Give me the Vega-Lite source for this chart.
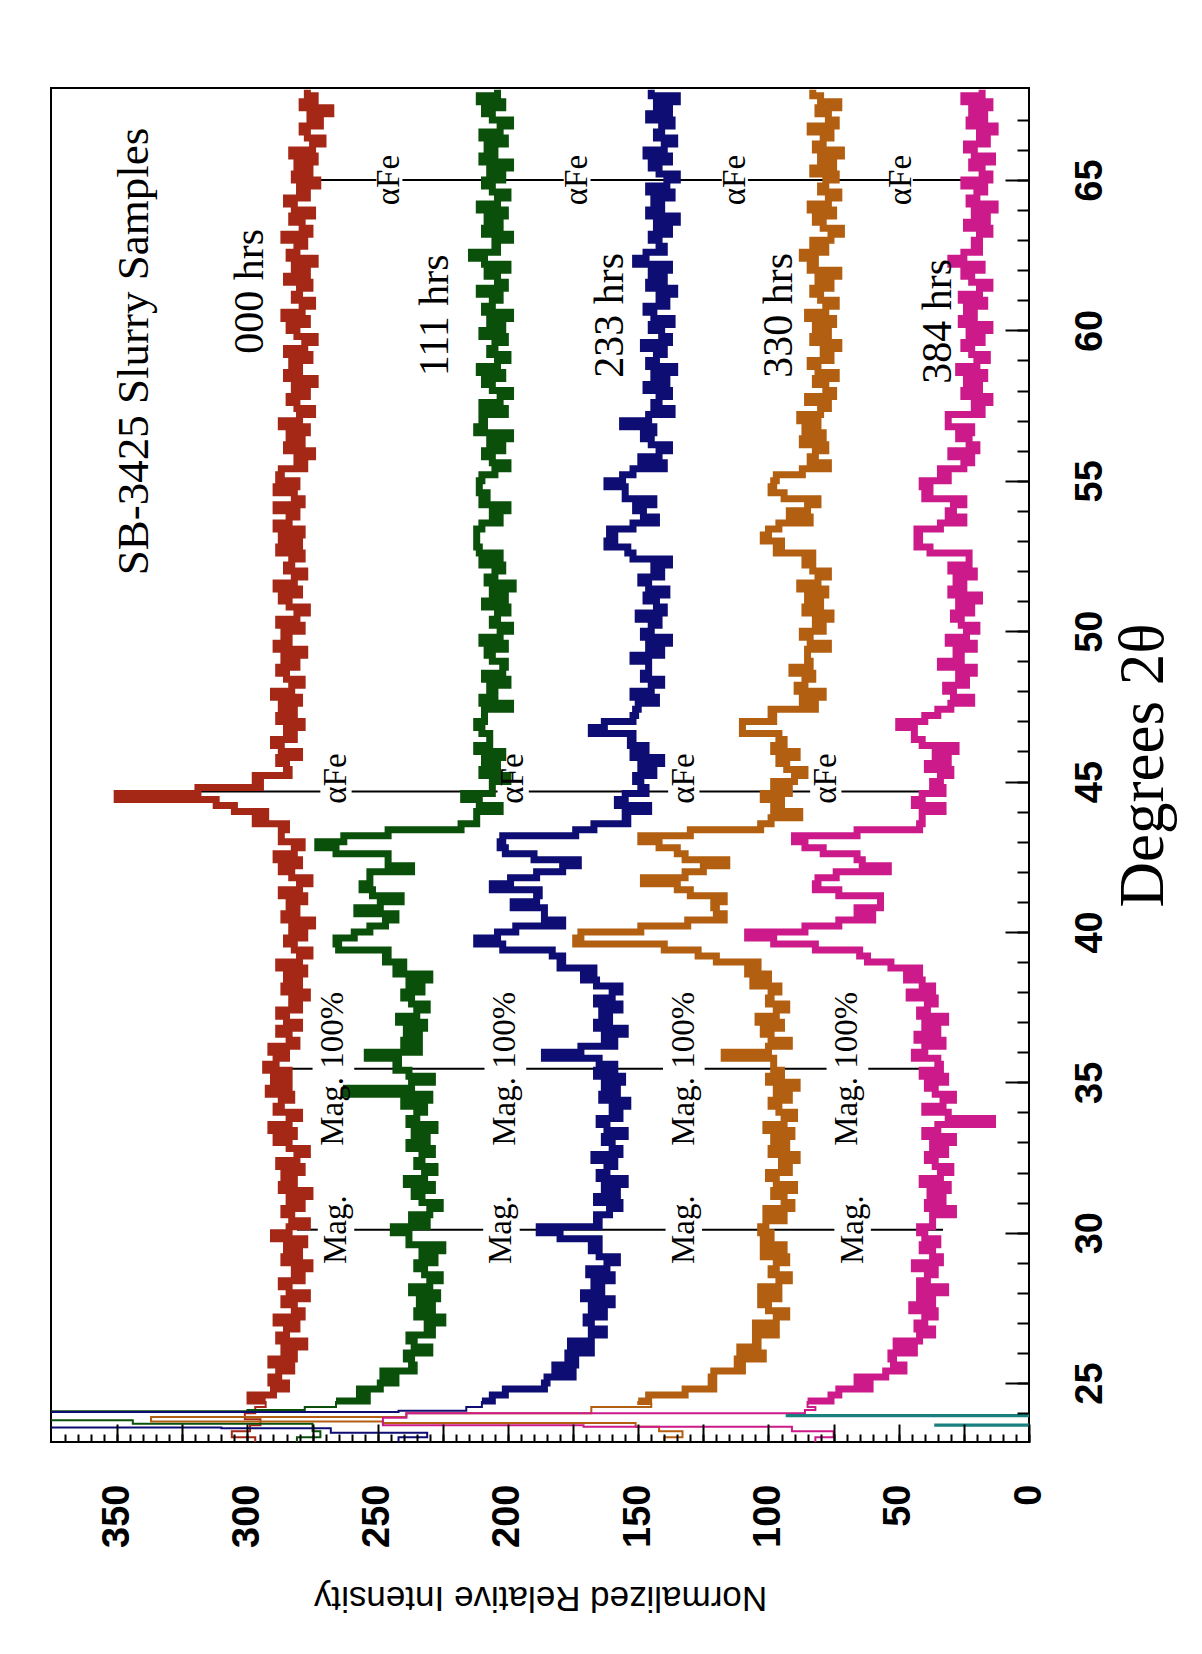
{
"$schema": "https://vega.github.io/schema/vega-lite/v6.json",
"width": 978, "height": 1354,
"padding": {"left": 51, "top": 88, "right": 20, "bottom": 30},
"background": "white",
"config": {"view": {"stroke": "black", "strokeWidth": 2}, "axis": {"labelColor": "black", "tickColor": "black", "titleColor": "black"}},
"datasets": {
"scans": [
{"t":23.0,"a":302,"b":277,"c":236,"d":136,"e":78,"f":-30},
{"t":23.2,"a":297,"b":281,"c":242,"d":140,"e":82},
{"t":23.35,"c":231},
{"t":23.4,"a":306,"b":272,"d":133,"e":75},
{"t":23.5,"c":268},
{"t":23.52,"c":310},
{"t":23.55,"d":142,"e":91},
{"t":23.56,"c":520},
{"t":23.58,"f":-30},
{"t":23.6,"a":299,"e":171},
{"t":23.62,"f":36},
{"t":23.65,"b":275},
{"t":23.66,"f":-30},
{"t":23.67,"d":151},
{"t":23.72,"d":248},
{"t":23.76,"b":344},
{"t":23.8,"a":295,"b":520},
{"t":23.85,"e":248},
{"t":23.87,"d":337},
{"t":23.9,"f":-30},
{"t":23.94,"f":93},
{"t":23.98,"f":-30},
{"t":24.0,"a":301,"d":239,"e":239},
{"t":24.04,"c":520},
{"t":24.06,"b":520},
{"t":24.08,"c":242},
{"t":24.1,"b":300,"e":86},
{"t":24.2,"a":297,"b":278,"c":216,"d":168,"e":82},
{"t":24.3,"d":145},
{"t":24.4,"a":293,"b":266,"c":210,"d":150,"e":85,"f":-30},
{"t":24.6,"a":299,"b":254,"c":206,"d":146,"e":76},
{"t":24.8,"a":290,"b":257,"c":201,"d":132,"e":73},
{"t":25.0,"a":285,"b":249,"c":186,"d":121,"e":61},
{"t":25.2,"a":291,"b":243,"c":185,"d":122,"e":66},
{"t":25.4,"a":288,"b":248,"c":175,"d":121,"e":55},
{"t":25.6,"a":283,"b":236,"c":182,"d":110,"e":48},
{"t":25.8,"a":291,"b":237,"c":174,"d":112,"e":52},
{"t":26.0,"a":282,"b":239,"c":177,"d":102,"e":53},
{"t":26.2,"a":286,"b":230,"c":168,"d":111,"e":44},
{"t":26.4,"a":278,"b":236,"c":176,"d":104,"e":51},
{"t":26.6,"a":288,"b":238,"c":168,"d":105,"e":42},
{"t":26.8,"a":285,"b":229,"c":163,"d":97,"e":37},
{"t":27.0,"a":281,"b":231,"c":168,"d":105,"e":43},
{"t":27.2,"a":289,"b":225,"c":170,"d":97,"e":40},
{"t":27.4,"a":279,"b":235,"c":163,"d":93,"e":36},
{"t":27.6,"a":282,"b":229,"c":168,"d":100,"e":45},
{"t":27.8,"a":286,"b":234,"c":160,"d":103,"e":37},
{"t":28.0,"a":277,"b":227,"c":171,"d":96,"e":42},
{"t":28.2,"a":284,"b":237,"c":164,"d":103,"e":32},
{"t":28.4,"a":287,"b":230,"c":167,"d":96,"e":42},
{"t":28.6,"a":279,"b":226,"c":160,"d":92,"e":39},
{"t":28.8,"a":282,"b":232,"c":169,"d":99,"e":36},
{"t":29.0,"a":276,"b":235,"c":162,"d":97,"e":44},
{"t":29.2,"a":286,"b":228,"c":158,"d":93,"e":34},
{"t":29.4,"a":280,"b":233,"c":165,"d":102,"e":37},
{"t":29.6,"a":285,"b":225,"c":168,"d":94,"e":41},
{"t":29.8,"a":278,"b":238,"c":165,"d":102,"e":35},
{"t":30.0,"a":290,"b":238,"c":180,"d":99,"e":40},
{"t":30.2,"a":284,"b":244,"c":188,"d":103,"e":42},
{"t":30.4,"a":277,"b":231,"c":165,"d":101,"e":37},
{"t":30.6,"a":283,"b":237,"c":166,"d":94,"e":37},
{"t":30.8,"a":286,"b":230,"c":161,"d":101,"e":29},
{"t":31.0,"a":279,"b":226,"c":157,"d":91,"e":39},
{"t":31.2,"a":284,"b":233,"c":166,"d":94,"e":33},
{"t":31.4,"a":276,"b":236,"c":158,"d":98,"e":38},
{"t":31.6,"a":287,"b":229,"c":163,"d":90,"e":31},
{"t":31.8,"a":282,"b":239,"c":155,"d":97,"e":41},
{"t":32.0,"a":286,"b":232,"c":165,"d":100,"e":34},
{"t":32.2,"a":279,"b":228,"c":162,"d":92,"e":30},
{"t":32.4,"a":288,"b":235,"c":159,"d":95,"e":36},
{"t":32.6,"a":281,"b":233,"c":167,"d":89,"e":39},
{"t":32.8,"a":277,"b":229,"c":157,"d":99,"e":32},
{"t":33.0,"a":284,"b":238,"c":160,"d":93,"e":37},
{"t":33.2,"a":289,"b":231,"c":163,"d":98,"e":29},
{"t":33.4,"a":282,"b":236,"c":155,"d":91,"e":40},
{"t":33.6,"a":291,"b":228,"c":162,"d":101,"e":35},
{"t":33.8,"a":284,"b":238,"c":165,"d":94,"e":14},
{"t":34.0,"a":280,"b":235,"c":157,"d":90,"e":31},
{"t":34.2,"a":289,"b":232,"c":160,"d":96,"e":40},
{"t":34.4,"a":287,"b":240,"c":154,"d":99,"e":33},
{"t":34.6,"a":283,"b":230,"c":164,"d":92,"e":29},
{"t":34.8,"a":292,"b":262,"c":158,"d":97,"e":36},
{"t":35.0,"a":284,"b":237,"c":163,"d":89,"e":39},
{"t":35.2,"a":290,"b":229,"c":156,"d":100,"e":32},
{"t":35.4,"a":284,"b":238,"c":166,"d":95,"e":41},
{"t":35.6,"a":293,"b":243,"c":159,"d":98,"e":34},
{"t":35.8,"a":289,"b":242,"c":165,"d":98,"e":35},
{"t":36.0,"a":285,"b":254,"c":186,"d":117,"e":44},
{"t":36.2,"a":291,"b":234,"c":172,"d":100,"e":40},
{"t":36.4,"a":281,"b":240,"c":159,"d":92,"e":33},
{"t":36.6,"a":284,"b":234,"c":163,"d":99,"e":43},
{"t":36.8,"a":288,"b":239,"c":155,"d":102,"e":35},
{"t":37.0,"a":280,"b":232,"c":166,"d":95,"e":40},
{"t":37.2,"a":285,"b":242,"c":161,"d":104,"e":32},
{"t":37.4,"a":288,"b":235,"c":164,"d":97,"e":42},
{"t":37.6,"a":280,"b":231,"c":157,"d":93,"e":39},
{"t":37.8,"a":283,"b":237,"c":166,"d":100,"e":36},
{"t":38.0,"a":277,"b":240,"c":160,"d":99,"e":46},
{"t":38.2,"a":286,"b":233,"c":157,"d":96,"e":37},
{"t":38.4,"a":280,"b":238,"c":166,"d":106,"e":41},
{"t":38.6,"a":285,"b":230,"c":171,"d":100,"e":47},
{"t":38.8,"a":278,"b":243,"c":167,"d":108,"e":42},
{"t":39.0,"a":288,"b":240,"c":180,"d":104,"e":53},
{"t":39.2,"a":280,"b":247,"c":179,"d":120,"e":62},
{"t":39.4,"a":276,"b":246,"c":183,"d":127,"e":65},
{"t":39.6,"a":282,"b":265,"c":202,"d":140,"e":82},
{"t":39.8,"a":285,"b":266,"c":212,"d":174,"e":98},
{"t":40.0,"a":278,"b":259,"c":204,"d":172,"e":108},
{"t":40.2,"a":283,"b":253,"c":197,"d":149,"e":86},
{"t":40.4,"a":275,"b":247,"c":179,"d":131,"e":73},
{"t":40.6,"a":286,"b":243,"c":186,"d":117,"e":60},
{"t":40.8,"a":281,"b":258,"c":186,"d":120,"e":66},
{"t":41.0,"a":284,"b":249,"c":198,"d":121,"e":57},
{"t":41.2,"a":278,"b":241,"c":189,"d":117,"e":57},
{"t":41.4,"a":287,"b":252,"c":188,"d":130,"e":73},
{"t":41.6,"a":280,"b":256,"c":206,"d":135,"e":82},
{"t":41.8,"a":276,"b":253,"c":199,"d":148,"e":81},
{"t":42.0,"a":283,"b":253,"c":189,"d":132,"e":74},
{"t":42.2,"a":287,"b":237,"c":179,"d":125,"e":54},
{"t":42.4,"a":280,"b":246,"c":173,"d":116,"e":64},
{"t":42.6,"a":289,"b":246,"c":190,"d":132,"e":66},
{"t":42.8,"a":282,"b":266,"c":201,"d":135,"e":79},
{"t":43.0,"a":279,"b":273,"c":203,"d":142,"e":86},
{"t":43.2,"a":287,"b":263,"c":202,"d":149,"e":90},
{"t":43.4,"a":287,"b":246,"c":174,"d":130,"e":66},
{"t":43.6,"a":285,"b":218,"c":167,"d":103,"e":42},
{"t":43.8,"a":297,"b":212,"c":154,"d":99,"e":41},
{"t":44.0,"a":293,"b":212,"c":155,"d":88,"e":41},
{"t":44.2,"a":305,"b":203,"c":146,"d":98,"e":33},
{"t":44.4,"a":312,"b":211,"c":158,"d":95,"e":44},
{"t":44.6,"a":350,"b":217,"c":155,"d":102,"e":41},
{"t":44.8,"a":319,"b":206,"c":147,"d":92,"e":33},
{"t":45.0,"a":295,"b":206,"c":149,"d":98,"e":37},
{"t":45.2,"a":297,"b":200,"c":151,"d":90,"e":34},
{"t":45.4,"a":284,"b":210,"c":144,"d":86,"e":30},
{"t":45.6,"a":285,"b":204,"c":149,"d":93,"e":39},
{"t":45.8,"a":288,"b":209,"c":141,"d":96,"e":31},
{"t":46.0,"a":280,"b":202,"c":152,"d":89,"e":36},
{"t":46.2,"a":287,"b":212,"c":147,"d":98,"e":28},
{"t":46.4,"a":290,"b":207,"c":153,"d":94,"e":41},
{"t":46.6,"a":282,"b":207,"c":152,"d":96,"e":44},
{"t":46.8,"a":285,"b":210,"c":168,"d":110,"e":44},
{"t":47.0,"a":279,"b":212,"c":163,"d":110,"e":50},
{"t":47.2,"a":288,"b":209,"c":152,"d":98,"e":40},
{"t":47.4,"a":282,"b":209,"c":151,"d":99,"e":35},
{"t":47.6,"a":287,"b":199,"c":150,"d":82,"e":30},
{"t":47.8,"a":280,"b":210,"c":143,"d":87,"e":22},
{"t":48.0,"a":290,"b":205,"c":152,"d":79,"e":29},
{"t":48.2,"a":283,"b":207,"c":145,"d":89,"e":32},
{"t":48.4,"a":279,"b":200,"c":141,"d":86,"e":24},
{"t":48.6,"a":285,"b":209,"c":148,"d":83,"e":27},
{"t":48.8,"a":288,"b":202,"c":146,"d":91,"e":21},
{"t":49.0,"a":281,"b":201,"c":146,"d":84,"e":34},
{"t":49.2,"a":286,"b":206,"c":152,"d":85,"e":26},
{"t":49.4,"a":278,"b":208,"c":141,"d":85,"e":28},
{"t":49.6,"a":289,"b":201,"c":146,"d":77,"e":21},
{"t":49.8,"a":284,"b":210,"c":138,"d":84,"e":31},
{"t":50.0,"a":286,"b":203,"c":148,"d":87,"e":24},
{"t":50.2,"a":279,"b":199,"c":145,"d":79,"e":20},
{"t":50.4,"a":288,"b":206,"c":142,"d":82,"e":26},
{"t":50.6,"a":281,"b":204,"c":150,"d":76,"e":29},
{"t":50.8,"a":277,"b":200,"c":140,"d":86,"e":22},
{"t":51.0,"a":284,"b":209,"c":143,"d":80,"e":27},
{"t":51.2,"a":287,"b":201,"c":147,"d":85,"e":19},
{"t":51.4,"a":280,"b":206,"c":139,"d":78,"e":30},
{"t":51.6,"a":289,"b":198,"c":146,"d":88,"e":25},
{"t":51.8,"a":282,"b":208,"c":149,"d":81,"e":28},
{"t":52.0,"a":278,"b":205,"c":141,"d":77,"e":21},
{"t":52.2,"a":285,"b":202,"c":144,"d":83,"e":30},
{"t":52.4,"a":283,"b":210,"c":138,"d":86,"e":23},
{"t":52.6,"a":279,"b":203,"c":152,"d":83,"e":23},
{"t":52.8,"a":288,"b":211,"c":154,"d":97,"e":38},
{"t":53.0,"a":280,"b":212,"c":162,"d":95,"e":43},
{"t":53.2,"a":287,"b":212,"c":159,"d":102,"e":42},
{"t":53.4,"a":279,"b":212,"c":161,"d":100,"e":43},
{"t":53.6,"a":289,"b":210,"c":152,"d":96,"e":34},
{"t":53.8,"a":284,"b":203,"c":143,"d":84,"e":25},
{"t":54.0,"a":281,"b":206,"c":148,"d":92,"e":31},
{"t":54.2,"a":289,"b":200,"c":151,"d":85,"e":29},
{"t":54.4,"a":279,"b":210,"c":144,"d":81,"e":25},
{"t":54.6,"a":282,"b":208,"c":155,"d":94,"e":40},
{"t":54.8,"a":289,"b":211,"c":155,"d":99,"e":38},
{"t":55.0,"a":281,"b":211,"c":162,"d":98,"e":41},
{"t":55.2,"a":288,"b":210,"c":156,"d":97,"e":31},
{"t":55.4,"a":287,"b":205,"c":152,"d":87,"e":34},
{"t":55.6,"a":278,"b":200,"c":140,"d":77,"e":25},
{"t":55.8,"a":281,"b":206,"c":149,"d":84,"e":22},
{"t":56.0,"a":275,"b":209,"c":142,"d":82,"e":30},
{"t":56.2,"a":285,"b":202,"c":138,"d":78,"e":20},
{"t":56.4,"a":279,"b":207,"c":145,"d":87,"e":23},
{"t":56.6,"a":284,"b":199,"c":148,"d":79,"e":27},
{"t":56.8,"a":277,"b":212,"c":144,"d":86,"e":22},
{"t":57.0,"a":287,"b":209,"c":156,"d":81,"e":31},
{"t":57.2,"a":280,"b":210,"c":146,"d":88,"e":31},
{"t":57.4,"a":275,"b":201,"c":137,"d":80,"e":18},
{"t":57.6,"a":281,"b":210,"c":144,"d":77,"e":21},
{"t":57.8,"a":284,"b":203,"c":142,"d":85,"e":15},
{"t":58.0,"a":277,"b":199,"c":138,"d":75,"e":25},
{"t":58.2,"a":282,"b":206,"c":147,"d":78,"e":19},
{"t":58.4,"a":274,"b":209,"c":139,"d":82,"e":24},
{"t":58.6,"a":285,"b":202,"c":144,"d":74,"e":17},
{"t":58.8,"a":280,"b":211,"c":136,"d":81,"e":27},
{"t":59.0,"a":283,"b":204,"c":146,"d":84,"e":20},
{"t":59.2,"a":276,"b":200,"c":143,"d":76,"e":16},
{"t":59.4,"a":285,"b":207,"c":140,"d":79,"e":22},
{"t":59.6,"a":278,"b":205,"c":148,"d":73,"e":25},
{"t":59.8,"a":274,"b":201,"c":138,"d":83,"e":18},
{"t":60.0,"a":281,"b":210,"c":141,"d":77,"e":23},
{"t":60.2,"a":284,"b":202,"c":145,"d":82,"e":15},
{"t":60.4,"a":277,"b":207,"c":137,"d":75,"e":26},
{"t":60.6,"a":286,"b":199,"c":144,"d":85,"e":21},
{"t":60.8,"a":279,"b":209,"c":147,"d":78,"e":24},
{"t":61.0,"a":275,"b":206,"c":139,"d":74,"e":17},
{"t":61.2,"a":282,"b":203,"c":142,"d":80,"e":26},
{"t":61.4,"a":280,"b":211,"c":136,"d":83,"e":19},
{"t":61.6,"a":276,"b":201,"c":146,"d":76,"e":15},
{"t":61.8,"a":285,"b":204,"c":140,"d":81,"e":22},
{"t":62.0,"a":277,"b":208,"c":145,"d":73,"e":25},
{"t":62.2,"a":282,"b":200,"c":138,"d":84,"e":18},
{"t":62.4,"a":274,"b":209,"c":151,"d":82,"e":30},
{"t":62.6,"a":284,"b":214,"c":147,"d":87,"e":25},
{"t":62.8,"a":281,"b":204,"c":140,"d":78,"e":19},
{"t":63.0,"a":278,"b":205,"c":142,"d":83,"e":21},
{"t":63.2,"a":286,"b":199,"c":145,"d":76,"e":19},
{"t":63.4,"a":276,"b":209,"c":138,"d":72,"e":15},
{"t":63.6,"a":279,"b":203,"c":143,"d":79,"e":24},
{"t":63.8,"a":283,"b":208,"c":135,"d":82,"e":16},
{"t":64.0,"a":275,"b":201,"c":146,"d":75,"e":21},
{"t":64.2,"a":282,"b":211,"c":141,"d":84,"e":13},
{"t":64.4,"a":285,"b":204,"c":144,"d":77,"e":23},
{"t":64.6,"a":277,"b":200,"c":137,"d":73,"e":20},
{"t":64.8,"a":280,"b":206,"c":146,"d":80,"e":17},
{"t":65.0,"a":273,"b":209,"c":139,"d":78,"e":25},
{"t":65.2,"a":282,"b":202,"c":135,"d":74,"e":15},
{"t":65.4,"a":276,"b":207,"c":142,"d":83,"e":18},
{"t":65.6,"a":281,"b":199,"c":145,"d":75,"e":22},
{"t":65.8,"a":274,"b":210,"c":138,"d":80,"e":14},
{"t":66.0,"a":283,"b":205,"c":147,"d":72,"e":21},
{"t":66.2,"a":275,"b":208,"c":140,"d":82,"e":24},
{"t":66.4,"a":271,"b":201,"c":136,"d":79,"e":16},
{"t":66.6,"a":277,"b":210,"c":143,"d":76,"e":19},
{"t":66.8,"a":279,"b":203,"c":141,"d":84,"e":13},
{"t":67.0,"a":272,"b":199,"c":137,"d":74,"e":23},
{"t":67.2,"a":276,"b":206,"c":146,"d":77,"e":17},
{"t":67.4,"a":268,"b":209,"c":138,"d":81,"e":22},
{"t":67.6,"a":279,"b":202,"c":143,"d":73,"e":15},
{"t":67.8,"a":274,"b":211,"c":135,"d":80,"e":25},
{"t":68.0,"a":277,"b":204,"c":145,"d":83,"e":18}
],
"hrs": [
{"label":"000 hrs","i":294,"t":61.3},
{"label":"111 hrs","i":223,"t":60.5},
{"label":"233 hrs","i":156,"t":60.5},
{"label":"330 hrs","i":91,"t":60.5},
{"label":"384 hrs","i":30,"t":60.3}
],
"peaks": [
{"label":"αFe","i":245.5,"t":65.0},{"label":"αFe","i":173.5,"t":65.0},{"label":"αFe","i":113,"t":65.0},{"label":"αFe","i":49,"t":65.0},
{"label":"αFe","i":266,"t":45.1},{"label":"αFe","i":198,"t":45.1},{"label":"αFe","i":132.5,"t":45.1},{"label":"αFe","i":78,"t":45.1},
{"label":"Mag. 100%","i":267,"t":35.45},{"label":"Mag. 100%","i":201,"t":35.45},{"label":"Mag. 100%","i":132.5,"t":35.45},{"label":"Mag. 100%","i":69.7,"t":35.45},
{"label":"Mag.","i":266,"t":30.1},{"label":"Mag.","i":202.5,"t":30.1},{"label":"Mag.","i":132.5,"t":30.1},{"label":"Mag.","i":67.7,"t":30.1}
],
"refs": [
{"t":65.0,"i1":275,"i2":250.5},{"t":65.0,"i1":240.5,"i2":178.6},{"t":65.0,"i1":168.3,"i2":117.9},{"t":65.0,"i1":107.9,"i2":53.4},{"t":65.0,"i1":44.6,"i2":22},
{"t":44.67,"i1":330,"i2":272},{"t":44.67,"i1":260,"i2":204},{"t":44.67,"i1":192,"i2":138.5},{"t":44.67,"i1":126.5,"i2":84},{"t":44.67,"i1":72,"i2":42},
{"t":35.45,"i1":288,"i2":275},{"t":35.45,"i1":259,"i2":209},{"t":35.45,"i1":193,"i2":140.5},{"t":35.45,"i1":124.5,"i2":77.7},{"t":35.45,"i1":61.7,"i2":35},
{"t":30.1,"i1":281,"i2":273},{"t":30.1,"i1":259,"i2":209.5},{"t":30.1,"i1":195.5,"i2":139.5},{"t":30.1,"i1":125.5,"i2":74.7},{"t":30.1,"i1":60.7,"i2":33}
],
"heading": [{"label":"SB-3425 Slurry Samples","i":338,"t":59.3}]
},
"layer": [
{
"data": {"name": "refs"},
"mark": {"type": "rule", "color": "black", "strokeWidth": 2},
"encoding": {
"x": {"field": "i1", "type": "quantitative",
 "scale": {"domain": [0, 375.4], "reverse": true, "nice": false, "zero": false},
 "axis": {"orient": "bottom", "values": [0,50,100,150,200,250,300,350], "ticks": false, "domain": false, "grid": false,
  "labelAngle": 270, "labelAlign": "right", "labelBaseline": "middle", "labelFont": "Liberation Sans", "labelFontWeight": "bold", "labelFontSize": 38,
  "labelPadding": 42, "labelFlush": false, "labelOverlap": false,
  "title": "Normalized Relative Intensity", "titleAngle": 180, "titleBaseline": "bottom", "titleFont": "Liberation Sans", "titleFontWeight": "normal", "titleFontSize": 35, "titlePadding": 32}},
"x2": {"field": "i2"},
"y": {"field": "t", "type": "quantitative",
 "scale": {"domain": [23.04, 68.06], "nice": false, "zero": false},
 "axis": {"orient": "right", "values": [25,30,35,40,45,50,55,60,65], "ticks": false, "domain": false, "grid": false,
  "labelAngle": 270, "labelAlign": "center", "labelBaseline": "top", "labelFont": "Liberation Sans", "labelFontWeight": "bold", "labelFontSize": 38,
  "labelPadding": 42, "labelFlush": false, "labelOverlap": false,
  "title": "Degrees 2θ", "titleAngle": 270, "titleBaseline": "top", "titleFont": "Liberation Serif", "titleFontWeight": "normal", "titleFontSize": 63, "titlePadding": 3}}
}
},
{
"data": {"name": "scans"},
"transform": [{"fold": ["a","b","c","d","e","f"], "as": ["series","v"]}, {"filter": "isValid(datum.v)"}, {"filter": "datum.t <= 24.4"}],
"mark": {"type": "line", "interpolate": "step-after", "strokeWidth": 2, "clip": true},
"encoding": {
"x": {"field": "v", "type": "quantitative",
 "scale": {"domain": [0, 375.4], "reverse": true, "nice": false, "zero": false},
 "axis": {"orient": "bottom", "values": [0,5,10,15,20,25,30,35,40,45,50,55,60,65,70,75,80,85,90,95,100,105,110,115,120,125,130,135,140,145,150,155,160,165,170,175,180,185,190,195,200,205,210,215,220,225,230,235,240,245,250,255,260,265,270,275,280,285,290,295,300,305,310,315,320,325,330,335,340,345,350,355,360,365,370],
  "labels": false, "domain": false, "grid": false, "tickSize": -8, "tickWidth": 2, "zindex": 1, "title": null}},
"y": {"field": "t", "type": "quantitative",
 "scale": {"domain": [23.04, 68.06], "nice": false, "zero": false},
 "axis": {"orient": "right", "values": [24,25,26,27,28,29,30,31,32,33,34,35,36,37,38,39,40,41,42,43,44,45,46,47,48,49,50,51,52,53,54,55,56,57,58,59,60,61,62,63,64,65,66,67],
  "labels": false, "domain": false, "grid": false, "tickSize": -12, "tickWidth": 2, "zindex": 1, "title": null}},
"order": {"field": "t", "type": "quantitative"},
"color": {"field": "series", "type": "nominal", "legend": null,
 "scale": {"domain": ["a","b","c","d","e","f"], "range": ["#A52817","#0A500A","#0D0D73","#B35F12","#CC1A8A","#1A7F7F"]}}
}
},
{
"data": {"name": "scans"},
"transform": [{"fold": ["a","b","c","d","e","f"], "as": ["series","v"]}, {"filter": "isValid(datum.v)"}, {"filter": "datum.t >= 24.4"}],
"mark": {"type": "line", "interpolate": "step-after", "strokeWidth": 7, "clip": true},
"encoding": {
"x": {"field": "v", "type": "quantitative", "scale": {"domain": [0, 375.4], "reverse": true, "nice": false, "zero": false}, "axis": null},
"y": {"field": "t", "type": "quantitative", "scale": {"domain": [23.04, 68.06], "nice": false, "zero": false}, "axis": null},
"order": {"field": "t", "type": "quantitative"},
"color": {"field": "series", "type": "nominal", "legend": null,
 "scale": {"domain": ["a","b","c","d","e","f"], "range": ["#A52817","#0A500A","#0D0D73","#B35F12","#CC1A8A","#1A7F7F"]}}
}
},
{
"data": {"name": "hrs"},
"mark": {"type": "text", "angle": 270, "font": "Liberation Serif", "fontSize": 42, "align": "center", "baseline": "alphabetic", "color": "black"},
"encoding": {
"x": {"field": "i", "type": "quantitative",
 "scale": {"domain": [0, 375.4], "reverse": true, "nice": false, "zero": false},
 "axis": {"orient": "bottom", "values": [0,25,50,75,100,125,150,175,200,225,250,275,300,325,350],
  "labels": false, "domain": false, "grid": false, "tickSize": -18, "tickWidth": 2, "zindex": 1, "title": null}},
"y": {"field": "t", "type": "quantitative",
 "scale": {"domain": [23.04, 68.06], "nice": false, "zero": false},
 "axis": {"orient": "right", "values": [25,30,35,40,45,50,55,60,65],
  "labels": false, "domain": false, "grid": false, "tickSize": -24, "tickWidth": 2, "zindex": 1, "title": null}},
"text": {"field": "label"}
}
},
{
"data": {"name": "peaks"},
"mark": {"type": "text", "angle": 270, "font": "Liberation Serif", "fontSize": 33, "align": "center", "baseline": "middle", "color": "black"},
"encoding": {
"x": {"field": "i", "type": "quantitative", "axis": null},
"y": {"field": "t", "type": "quantitative", "axis": null},
"text": {"field": "label"}
}
},
{
"data": {"name": "heading"},
"mark": {"type": "text", "angle": 270, "font": "Liberation Serif", "fontSize": 45, "align": "center", "baseline": "alphabetic", "color": "black"},
"encoding": {
"x": {"field": "i", "type": "quantitative", "axis": null},
"y": {"field": "t", "type": "quantitative", "axis": null},
"text": {"field": "label"}
}
}
],
"resolve": {"axis": {"x": "independent", "y": "independent"}}
}
